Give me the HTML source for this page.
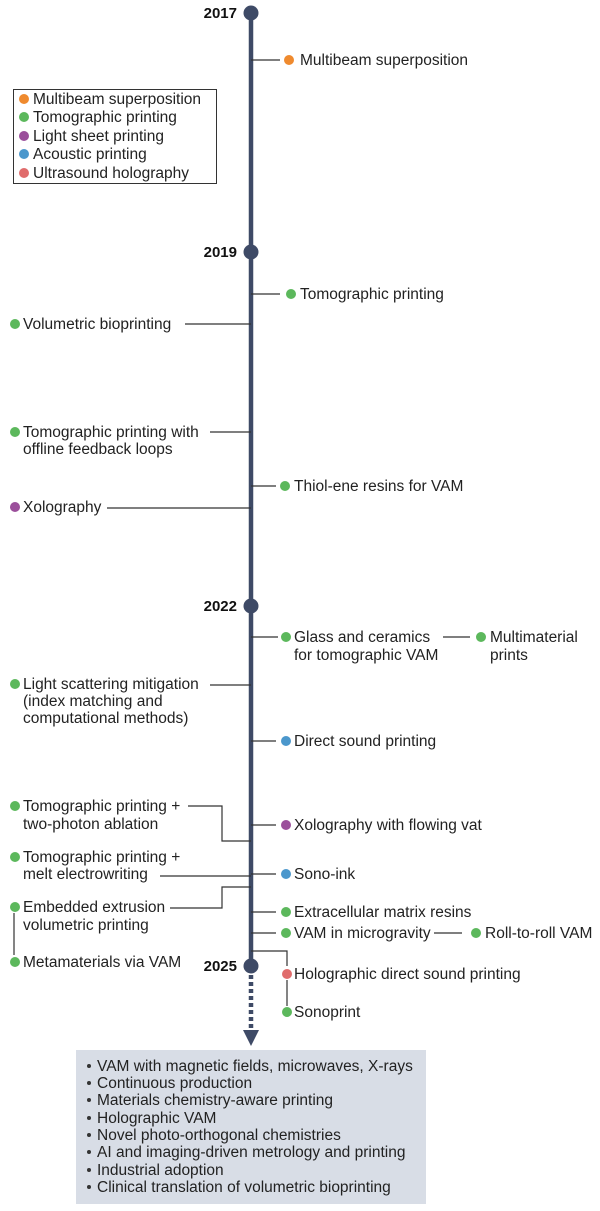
<!DOCTYPE html>
<html><head><meta charset="utf-8"><style>
html,body{margin:0;padding:0;background:#fff;}
svg{display:block;font-family:"Liberation Sans",sans-serif;}
text{font-size:15.5px;fill:#222;}
.y{font-weight:bold;font-size:15px;fill:#111;}
.c{stroke:#333;stroke-width:1.2;fill:none;}
</style></head><body>
<svg width="600" height="1211" viewBox="0 0 600 1211">
<line x1="251" y1="13" x2="251" y2="966" stroke="#3e4a66" stroke-width="4.5"/>
<line x1="251" y1="975" x2="251" y2="1030" stroke="#3e4a66" stroke-width="4.5" stroke-dasharray="4,3"/>
<polygon points="243,1030 259,1030 251,1046" fill="#3e4a66"/>
<g fill="#3e4a66">
<circle cx="251" cy="13" r="7.5"/><circle cx="251" cy="252" r="7.5"/>
<circle cx="251" cy="606" r="7.5"/><circle cx="251" cy="966" r="7.5"/>
</g>
<text class="y" x="237" y="18" text-anchor="end">2017</text>
<text class="y" x="237" y="257" text-anchor="end">2019</text>
<text class="y" x="237" y="611" text-anchor="end">2022</text>
<text class="y" x="237" y="971" text-anchor="end">2025</text>
<rect x="13.5" y="89.5" width="203" height="94" fill="#fff" stroke="#333" stroke-width="1"/>
<circle cx="24" cy="99" r="5" fill="#ef8a2e"/><text x="33" y="104">Multibeam superposition</text>
<circle cx="24" cy="117" r="5" fill="#5cb85c"/><text x="33" y="122">Tomographic printing</text>
<circle cx="24" cy="136" r="5" fill="#9b4f9b"/><text x="33" y="141">Light sheet printing</text>
<circle cx="24" cy="154" r="5" fill="#4b97cc"/><text x="33" y="159">Acoustic printing</text>
<circle cx="24" cy="173" r="5" fill="#e06c6c"/><text x="33" y="178">Ultrasound holography</text>
<path class="c" d="M251 60H280 M251 294H280 M185 324H251 M210 432H251 M251 486H276 M107 508H251
M251 637H278 M443 637H470 M210 685H251 M251 741H276
M188 806H222V841H251 M251 825H276 M160 876H251 M251 874H276 M170 908H222V887H251
M14 913V955 M251 912H276 M251 933H276 M434 933H462 M251 951H287V966 M287 980V1006"/>
<circle cx="289" cy="60" r="5" fill="#ef8a2e"/><text x="300" y="65">Multibeam superposition</text>
<circle cx="291" cy="294" r="5" fill="#5cb85c"/><text x="300" y="299">Tomographic printing</text>
<circle cx="285" cy="486" r="5" fill="#5cb85c"/><text x="294" y="491">Thiol-ene resins for VAM</text>
<circle cx="286" cy="637" r="5" fill="#5cb85c"/><text x="294" y="642">Glass and ceramics</text><text x="294" y="660">for tomographic VAM</text>
<circle cx="481" cy="637" r="5" fill="#5cb85c"/><text x="490" y="642">Multimaterial</text><text x="490" y="660">prints</text>
<circle cx="286" cy="741" r="5" fill="#4b97cc"/><text x="294" y="746">Direct sound printing</text>
<circle cx="286" cy="825" r="5" fill="#9b4f9b"/><text x="294" y="830">Xolography with flowing vat</text>
<circle cx="286" cy="874" r="5" fill="#4b97cc"/><text x="294" y="879">Sono-ink</text>
<circle cx="286" cy="912" r="5" fill="#5cb85c"/><text x="294" y="917">Extracellular matrix resins</text>
<circle cx="286" cy="933" r="5" fill="#5cb85c"/><text x="294" y="938">VAM in microgravity</text>
<circle cx="476" cy="933" r="5" fill="#5cb85c"/><text x="485" y="938">Roll-to-roll VAM</text>
<circle cx="287" cy="974" r="5" fill="#e06c6c"/><text x="294" y="979">Holographic direct sound printing</text>
<circle cx="287" cy="1012" r="5" fill="#5cb85c"/><text x="294" y="1017">Sonoprint</text>
<circle cx="15" cy="324" r="5" fill="#5cb85c"/><text x="23" y="329">Volumetric bioprinting</text>
<circle cx="15" cy="432" r="5" fill="#5cb85c"/><text x="23" y="437">Tomographic printing with</text><text x="23" y="454">offline feedback loops</text>
<circle cx="15" cy="507" r="5" fill="#9b4f9b"/><text x="23" y="512">Xolography</text>
<circle cx="15" cy="684" r="5" fill="#5cb85c"/><text x="23" y="689">Light scattering mitigation</text><text x="23" y="706">(index matching and</text><text x="23" y="723">computational methods)</text>
<circle cx="15" cy="806" r="5" fill="#5cb85c"/><text x="23" y="811">Tomographic printing +</text><text x="23" y="829">two-photon ablation</text>
<circle cx="15" cy="857" r="5" fill="#5cb85c"/><text x="23" y="862">Tomographic printing +</text><text x="23" y="879">melt electrowriting</text>
<circle cx="15" cy="907" r="5" fill="#5cb85c"/><text x="23" y="912">Embedded extrusion</text><text x="23" y="930">volumetric printing</text>
<circle cx="15" cy="962" r="5" fill="#5cb85c"/><text x="23" y="967">Metamaterials via VAM</text>
<rect x="76" y="1050" width="350" height="154" fill="#d8dde6"/>
<g fill="#333">
<circle cx="89" cy="1066" r="2"/><circle cx="89" cy="1083" r="2"/><circle cx="89" cy="1100" r="2"/><circle cx="89" cy="1118" r="2"/>
<circle cx="89" cy="1135" r="2"/><circle cx="89" cy="1152" r="2"/><circle cx="89" cy="1170" r="2"/><circle cx="89" cy="1187" r="2"/>
</g>
<text x="97" y="1071">VAM with magnetic fields, microwaves, X-rays</text>
<text x="97" y="1088">Continuous production</text>
<text x="97" y="1105">Materials chemistry-aware printing</text>
<text x="97" y="1123">Holographic VAM</text>
<text x="97" y="1140">Novel photo-orthogonal chemistries</text>
<text x="97" y="1157">AI and imaging-driven metrology and printing</text>
<text x="97" y="1175">Industrial adoption</text>
<text x="97" y="1192">Clinical translation of volumetric bioprinting</text>
</svg>
</body></html>
